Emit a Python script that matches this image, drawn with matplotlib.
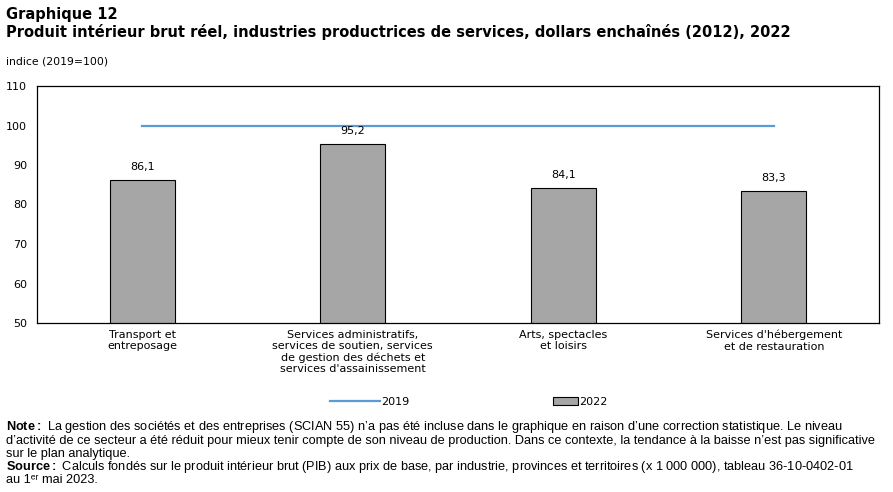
import matplotlib.pyplot as plt
from matplotlib.patches import Patch
from matplotlib.lines import Line2D

categories = [
    "Transport et\nentreposage",
    "Services administratifs,\nservices de soutien, services\nde gestion des déchets et\nservices d'assainissement",
    "Arts, spectacles\net loisirs",
    "Services d'hébergement\net de restauration",
]
values_2019 = [100, 100, 100, 100]
values_2022 = [86.1, 95.2, 84.1, 83.3]
yticks = [50, 60, 70, 80, 90, 100, 110]

plt.rcParams['font.family'] = ['DejaVu Sans']
plt.rcParams['mathtext.fontset'] = 'custom'
plt.rcParams['mathtext.rm'] = 'Liberation Sans'
plt.rcParams['mathtext.bf'] = 'Liberation Sans:bold'

fig = plt.figure(figsize=(8.93, 4.92), dpi=100)
ax = fig.add_axes([37 / 893, 1 - 323 / 492, 842 / 893, 237 / 492])

x = list(range(len(categories)))
ax.bar(x, values_2022, width=0.31, color='#a6a6a6', edgecolor='black', linewidth=0.8, zorder=2)
ax.plot(x, values_2019, color='#5b9bd5', linewidth=1.6, zorder=3)

for xi, v in zip(x, values_2022):
    ax.text(xi, v + 2.2, f"{v:.1f}".replace('.', ','), ha='center', va='bottom', fontsize=8)

ax.set_xlim(-0.5, 3.5)
ax.set_ylim(50, 110)
ax.set_yticks(yticks)
ax.set_xticks(x)
ax.set_xticklabels(categories, fontsize=8.1, linespacing=1.15)
ax.tick_params(axis='both', length=0, labelsize=8)
ax.tick_params(axis='y', pad=7)
ax.tick_params(axis='x', pad=5)
for s in ax.spines.values():
    s.set_linewidth(0.9)

fig.text(6 / 893, 1 - 15 / 492, "Graphique 12", fontsize=10.5, fontweight='bold', va='center')
fig.text(6 / 893, 1 - 32 / 492,
         "Produit intérieur brut réel, industries productrices de services, dollars enchaînés (2012), 2022",
         fontsize=10.5, fontweight='bold', va='center')
fig.text(6 / 893, 1 - 62 / 492, "indice (2019=100)", fontsize=7.8, va='center')

# two legend entries placed separately, like the reference
leg_y = 1 - 402 / 492
fig.legend([Line2D([0], [0], color='#5b9bd5', linewidth=1.6)], ['2019'],
           loc='center left', bbox_to_anchor=(330 / 893, leg_y), frameon=False,
           fontsize=8, handlelength=4.5, handletextpad=0.1, borderpad=0, borderaxespad=0)
fig.legend([Patch(facecolor='#a6a6a6', edgecolor='black', linewidth=0.8)], ['2022'],
           loc='center left', bbox_to_anchor=(553 / 893, leg_y), frameon=False,
           fontsize=8, handlelength=2.25, handleheight=0.8, handletextpad=0.1,
           borderpad=0, borderaxespad=0)

nf = ['Liberation Sans', 'DejaVu Sans']
note_lines = [
    (r"$\mathbf{Note :}$ La gestion des sociétés et des entreprises (SCIAN 55) n’a pas été incluse dans le graphique en raison d’une correction statistique. Le niveau", 427),
    ("d’activité de ce secteur a été réduit pour mieux tenir compte de son niveau de production. Dans ce contexte, la tendance à la baisse n’est pas significative", 441),
    ("sur le plan analytique.", 454),
    (r"$\mathbf{Source :}$ Calculs fondés sur le produit intérieur brut (PIB) aux prix de base, par industrie, provinces et territoires (x 1 000 000), tableau 36-10-0402-01", 467),
    ("au 1ᵉʳ mai 2023.", 480),
]
for txt, yp in note_lines:
    fig.text(6 / 893, 1 - yp / 492, txt, fontsize=9.2, va='center', family=nf)

fig.savefig('out.png', dpi=100)
